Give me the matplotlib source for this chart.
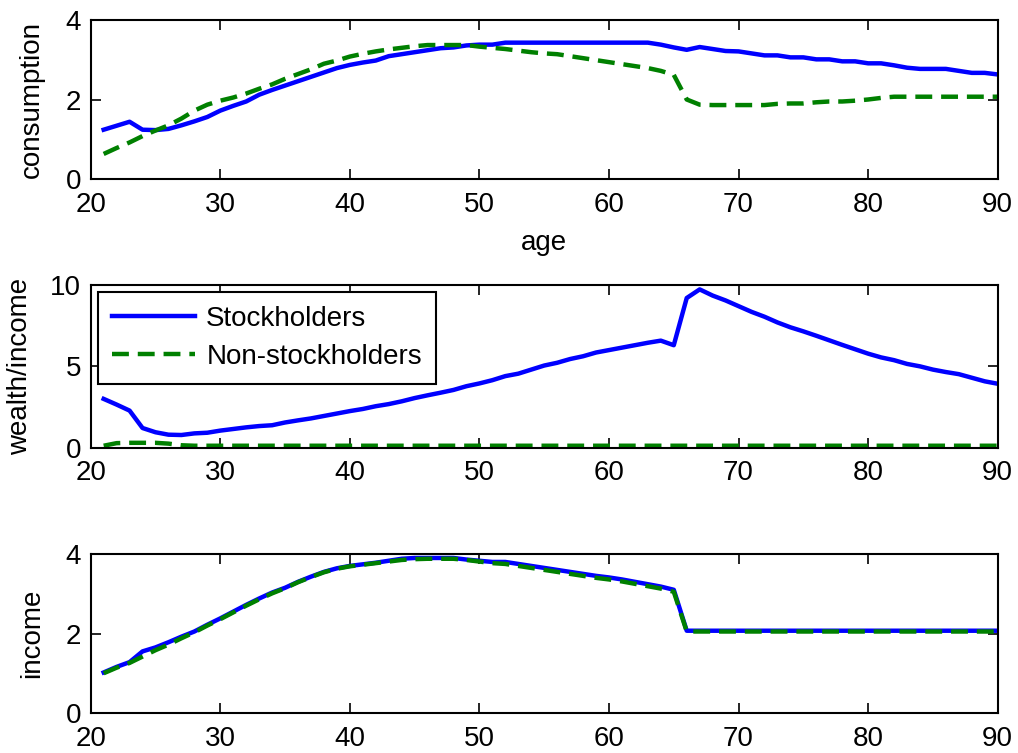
import numpy as np
import matplotlib
matplotlib.use("Agg")
from matplotlib import pyplot as plt

plt.rcParams['font.family'] = ['Liberation Sans', 'DejaVu Sans']
plt.rcParams['font.size'] = 20

age = np.arange(21, 91)

# consumption
cons_stock = [1.24, 1.34, 1.44, 1.24, 1.23, 1.26, 1.35, 1.45, 1.56, 1.72,
              1.84, 1.95, 2.12, 2.24, 2.35, 2.46, 2.57, 2.68, 2.79, 2.87,
              2.93, 2.98, 3.09, 3.14, 3.19, 3.24, 3.29, 3.31, 3.36, 3.38,
              3.38, 3.43, 3.43, 3.43, 3.43, 3.43, 3.43, 3.43, 3.43, 3.43,
              3.43, 3.43, 3.43, 3.38, 3.31, 3.25, 3.32, 3.27, 3.22, 3.21,
              3.16, 3.11, 3.11, 3.06, 3.06, 3.01, 3.01, 2.96, 2.96, 2.91,
              2.91, 2.86, 2.80, 2.77, 2.77, 2.77, 2.72, 2.67, 2.67, 2.63]
cons_non = [0.63, 0.78, 0.92, 1.08, 1.22, 1.35, 1.52, 1.72, 1.87, 1.97,
            2.05, 2.15, 2.27, 2.38, 2.52, 2.64, 2.76, 2.90, 2.98, 3.08,
            3.15, 3.21, 3.26, 3.30, 3.34, 3.37, 3.37, 3.37, 3.37, 3.33,
            3.30, 3.27, 3.23, 3.19, 3.16, 3.14, 3.09, 3.04, 2.99, 2.94,
            2.89, 2.84, 2.79, 2.72, 2.62, 2.00, 1.87, 1.86, 1.86, 1.86,
            1.86, 1.86, 1.89, 1.90, 1.90, 1.93, 1.95, 1.95, 1.97, 2.00,
            2.04, 2.07, 2.07, 2.07, 2.07, 2.07, 2.07, 2.07, 2.07, 2.07]

# wealth / income
wealth_stock = [3.00, 2.65, 2.28, 1.21, 0.95, 0.80, 0.78, 0.88, 0.92, 1.05,
                1.15, 1.25, 1.33, 1.38, 1.55, 1.68, 1.80, 1.95, 2.10, 2.25,
                2.38, 2.55, 2.68, 2.85, 3.05, 3.22, 3.38, 3.55, 3.78, 3.95,
                4.15, 4.40, 4.55, 4.80, 5.05, 5.22, 5.45, 5.62, 5.85, 6.00,
                6.15, 6.30, 6.45, 6.58, 6.30, 9.20, 9.73, 9.35, 9.05, 8.70,
                8.35, 8.05, 7.70, 7.40, 7.15, 6.88, 6.60, 6.32, 6.05, 5.78,
                5.55, 5.38, 5.15, 5.00, 4.80, 4.65, 4.52, 4.30, 4.08, 3.93]
wealth_non = [0.12, 0.28, 0.30, 0.30, 0.30, 0.25, 0.15] + [0.12] * 63

# income
inc_stock = [1.02, 1.16, 1.28, 1.55, 1.65, 1.78, 1.92, 2.05, 2.22, 2.38,
             2.55, 2.72, 2.88, 3.03, 3.15, 3.30, 3.43, 3.55, 3.64, 3.70,
             3.74, 3.78, 3.83, 3.88, 3.90, 3.90, 3.90, 3.90, 3.86, 3.83,
             3.80, 3.80, 3.75, 3.70, 3.65, 3.60, 3.55, 3.50, 3.45, 3.41,
             3.36, 3.30, 3.24, 3.18, 3.10, 2.07, 2.07, 2.07, 2.07, 2.07,
             2.07, 2.07, 2.07, 2.07, 2.07, 2.07, 2.07, 2.07, 2.07, 2.07,
             2.07, 2.07, 2.07, 2.07, 2.07, 2.07, 2.07, 2.07, 2.07, 2.07]
inc_non = [1.00, 1.14, 1.26, 1.42, 1.58, 1.72, 1.88, 2.03, 2.20, 2.36,
           2.53, 2.70, 2.86, 3.01, 3.14, 3.29, 3.42, 3.54, 3.63, 3.69,
           3.73, 3.77, 3.81, 3.85, 3.87, 3.88, 3.88, 3.88, 3.85, 3.81,
           3.77, 3.75, 3.70, 3.65, 3.60, 3.55, 3.50, 3.45, 3.40, 3.36,
           3.31, 3.25, 3.19, 3.13, 3.05, 2.05, 2.05, 2.05, 2.05, 2.05,
           2.05, 2.05, 2.05, 2.05, 2.05, 2.05, 2.05, 2.05, 2.05, 2.05,
           2.05, 2.05, 2.05, 2.05, 2.05, 2.05, 2.05, 2.05, 2.05, 2.05]

xticks = [20, 30, 40, 50, 60, 70, 80, 90]

fig = plt.figure(figsize=(10.18, 7.53), dpi=100)
W, H = 1018.0, 753.0
boxes = [(90.7, 20, 997.7, 179), (90.7, 285, 997.7, 447.7), (90.7, 554, 997.7, 713)]
axs = []
for (x0, y0, x1, y1) in boxes:
    axs.append(fig.add_axes([x0 / W, 1 - y1 / H, (x1 - x0) / W, (y1 - y0) / H]))

blue = (0, 0, 1)
green = (0, 0.5, 0)
lw = 3.2
dash = (3.8, 2.0)

panels = [
    (cons_stock, cons_non, 'consumption', [0, 2, 4], (0, 4)),
    (wealth_stock, wealth_non, 'wealth/income', [0, 5, 10], (0, 10)),
    (inc_stock, inc_non, 'income', [0, 2, 4], (0, 4)),
]

for ax, (s, n, lab, yt, yl) in zip(axs, panels):
    ax.plot(age, s, color=blue, lw=lw, label='Stockholders')
    ax.plot(age, n, color=green, lw=lw, ls='--', dashes=dash, label='Non-stockholders')
    ax.set_xlim(20, 90)
    ax.set_ylim(*yl)
    ax.set_xticks(xticks)
    ax.set_yticks(yt)
    ax.tick_params(direction='in', length=7, width=1.2, top=True, right=True,
                   labelsize=20)
    ax.tick_params(axis='x', pad=9)
    ax.tick_params(axis='y', pad=7)
    for sp in ax.spines.values():
        sp.set_linewidth(1.5)
    ax.set_ylabel(lab, fontsize=20)

axs[0].yaxis.set_label_coords(-0.050, 0.5)
axs[1].yaxis.set_label_coords(-0.0635, 0.5)
axs[2].yaxis.set_label_coords(-0.050, 0.5)
axs[0].set_xlabel('age', fontsize=20)
axs[0].xaxis.set_label_coords(0.5, -0.32)

leg = axs[1].legend(loc='upper left', bbox_to_anchor=(0.0, 1.0), fontsize=20,
                    fancybox=False, framealpha=1, edgecolor='black',
                    handlelength=3.0, borderpad=0.5, labelspacing=0.42,
                    handletextpad=0.4, borderaxespad=0.26)
leg.get_frame().set_linewidth(1.5)

fig.savefig('out.png', dpi=100)
